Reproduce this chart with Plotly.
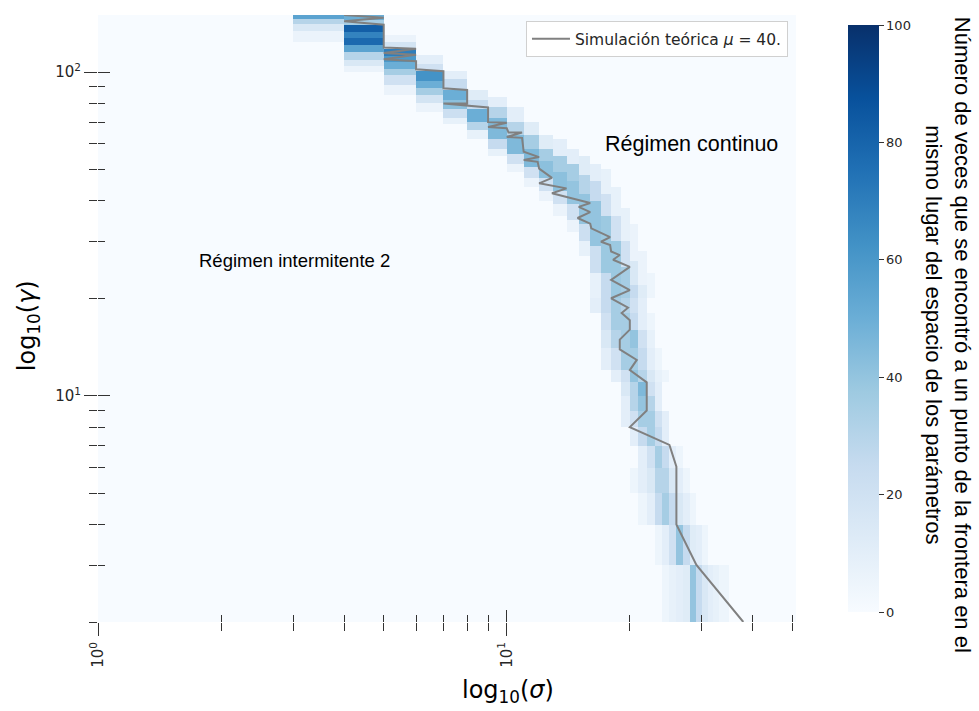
import math
import numpy as np
import plotly.graph_objects as go
import plotly.colors as pc

# ---------------- data ----------------
sigma_edges = list(range(1, 52))    # cell edges along sigma (1 .. 51)
gamma_edges = list(range(2, 151))   # cell edges along gamma (2 .. 150)

# upper part of the frontier: (sigma column, gamma from, gamma to (excl.), count)
upper_bands = [
    (3, 146, 150, 55), (3, 141, 146, 30), (3, 134, 141, 15), (3, 124, 134, 6),
    (4, 145, 150, 50), (4, 140, 145, 35), (4, 133, 140, 82), (4, 127, 133, 68), (4, 121, 127, 78),
    (4, 115, 121, 55), (4, 109, 115, 30), (4, 104, 109, 15), (4, 100, 104, 6),
    (5, 124, 130, 6), (5, 118, 124, 18), (5, 112, 118, 70), (5, 107, 112, 60), (5, 102, 107, 50),
    (5, 98, 102, 35), (5, 91, 98, 20), (5, 85, 91, 6),
    (6, 106, 113, 10), (6, 101, 106, 20), (6, 94, 101, 62), (6, 89, 94, 50), (6, 85, 89, 35),
    (6, 80, 85, 18), (6, 75, 80, 6),
    (7, 95, 101, 10), (7, 88, 95, 25), (7, 82, 88, 50), (7, 77, 82, 42), (7, 72, 77, 22), (7, 69, 72, 8),
    (8, 82, 88, 12), (8, 77, 82, 25), (8, 70, 77, 50), (8, 66, 70, 30), (8, 62, 66, 8),
    (9, 78, 84, 10), (9, 72, 78, 30), (9, 62, 72, 45), (9, 58, 62, 25), (9, 55, 58, 8),
    (10, 70, 78, 10), (10, 64, 70, 30), (10, 56, 64, 45), (10, 52, 56, 20), (10, 49, 52, 6),
    (11, 64, 70, 12), (11, 58, 64, 35), (11, 51, 58, 45), (11, 47, 51, 20), (11, 44, 47, 6),
    (12, 58, 64, 12), (12, 53, 58, 35), (12, 47, 53, 42), (12, 43, 47, 20), (12, 40, 43, 6),
    (13, 55, 62, 10), (13, 49, 55, 35), (13, 43, 49, 42), (13, 39, 43, 20), (13, 36, 39, 6),
    (14, 52, 58, 10), (14, 46, 52, 35), (14, 39, 46, 40), (14, 35, 39, 20), (14, 32, 35, 6),
    (15, 48, 55, 12), (15, 42, 48, 30), (15, 34, 42, 40), (15, 30, 34, 22), (15, 27, 30, 8),
    (16, 46, 52, 10), (16, 40, 46, 25), (16, 29, 40, 40), (16, 24, 29, 22), (16, 20, 24, 8),
    (17, 42, 50, 8), (17, 36, 42, 20), (17, 24, 36, 38), (17, 20, 24, 25),
    (18, 36, 44, 8), (18, 30, 36, 20), (18, 20, 30, 38),
    (19, 30, 38, 8), (19, 25, 30, 20), (19, 20, 25, 35),
    (20, 26, 34, 6), (20, 22, 26, 15), (20, 20, 22, 25),
    (21, 22, 28, 6), (21, 20, 22, 12),
    (22, 20, 24, 5),
]

# lower part: (gamma from, gamma to (excl.), first sigma column, counts along sigma)
lower_rows = [
    (18, 20, 16, [10, 25, 35, 30, 20, 10]),
    (16, 18, 17, [20, 35, 35, 25, 10, 5]),
    (14, 16, 17, [15, 30, 35, 40, 20, 8]),
    (12, 14, 17, [10, 20, 35, 35, 25, 10, 5]),
    (11, 12, 18, [10, 20, 40, 30, 15, 8, 5]),
    (10, 11, 19, [15, 30, 45, 20, 10]),
    (9, 10, 19, [10, 30, 40, 30, 10]),
    (8, 9, 19, [10, 20, 35, 35, 20, 10]),
    (7, 8, 20, [10, 25, 35, 25, 10]),
    (6, 7, 21, [10, 20, 35, 25, 10, 5]),
    (5, 6, 20, [5, 10, 15, 30, 30, 15, 10, 5]),
    (4, 5, 21, [5, 10, 25, 35, 25, 15, 10, 5]),
    (3, 4, 23, [5, 10, 20, 40, 25, 12, 10, 5]),
    (2, 3, 24, [5, 8, 10, 12, 40, 25, 15, 10, 8, 5, 5]),
]

# theoretical simulation line (sigma, gamma)
line_sigma = [4.0, 5.0, 4.0, 5.0, 5.0, 6.0, 5.0, 6.0, 5.0, 6.0, 6.0, 7.0, 7.0, 8.0, 8.0, 7.0,
              9.0, 9.0, 10.0, 9.0, 10.0, 10.1, 10.9, 10.0, 10.9, 11.0, 12.0, 11.0, 11.9, 12.0,
              12.9, 12.0, 14.0, 12.9, 16.0, 15.0, 16.0, 14.9, 16.0, 16.1, 17.9, 17.0, 17.9,
              18.0, 18.9, 18.2, 20.0, 18.0, 20.0, 18.0, 19.8, 19.1, 20.0, 20.0, 18.9, 18.9,
              20.8, 20.0, 22.0, 22.0, 20.0, 25.0, 26.0, 26.0, 29.1, 37.9]
line_gamma = [150, 147, 143.6, 140, 119, 118, 114.5, 113, 109.5, 108, 102, 100.5, 89.1, 88, 80, 80,
              77.7, 70, 69.7, 67.6, 67, 65, 65, 63, 62.6, 56.7, 54.6, 53.5, 52.8, 50.3,
              47.1, 45.3, 43.7, 42.2, 39.4, 38.3, 36.9, 35.4, 34.0, 32.9, 30.9, 29.9, 29.2,
              27.9, 27.2, 26.3, 25.0, 22.8, 21.2, 20.0, 18.7, 18.0, 17.1, 16.0, 14.9, 13.9,
              12.9, 12.0, 11.0, 9.0, 8.0, 7.05, 6.04, 4.0, 3.0, 2.0]

cbar_ticks = [0, 20, 40, 60, 80, 100]
x_major = [1, 10]
x_major_text = ["10<sup>0</sup>", "10<sup>1</sup>"]
x_minor = [2, 3, 4, 5, 6, 7, 8, 9, 20, 30, 40, 50]
y_major = [10, 100]
y_major_text = ["10<sup>1</sup>", "10<sup>2</sup>"]
y_minor = [2, 3, 4, 5, 6, 7, 8, 9, 20, 30, 40, 50, 60, 70, 80, 90]

# ---------------- build grid ----------------
nx = len(sigma_edges) - 1
ny = len(gamma_edges) - 1
z = np.zeros((ny, nx))
g0 = gamma_edges[0]
s0 = sigma_edges[0]
for s, glo, ghi, c in upper_bands:
    z[glo - g0:ghi - g0, s - s0] = c
for glo, ghi, sstart, counts in lower_rows:
    for k, c in enumerate(counts):
        z[glo - g0:ghi - g0, sstart - s0 + k] = c

blues = pc.sequential.Blues
cscale = [[i / (len(blues) - 1), col] for i, col in enumerate(blues)]

fig = go.Figure()
fig.add_trace(go.Heatmap(
    x=sigma_edges, y=gamma_edges, z=z, zmin=0, zmax=100,
    colorscale=cscale, showscale=True, hoverinfo="skip",
    colorbar=dict(
        x=1.06, xanchor="left", y=0.5, yanchor="middle", len=1.0, lenmode="fraction",
        thickness=31, outlinewidth=0, ticks="outside", ticklen=5, tickwidth=1,
        tickcolor="#333333", tickvals=cbar_ticks,
        tickfont=dict(family="DejaVu Sans", size=13, color="#262626"),
    ),
    showlegend=False,
))
fig.add_trace(go.Scatter(
    x=line_sigma, y=line_gamma, mode="lines",
    line=dict(color="#808080", width=2),
    name="Simulación teórica <i>μ</i> = 40.",
    showlegend=True,
))
# invisible copy to carry the overlaid axes (inner tick halves)
fig.add_trace(go.Scatter(
    x=line_sigma, y=line_gamma, mode="lines", xaxis="x2", yaxis="y2",
    line=dict(color="rgba(0,0,0,0)", width=0), showlegend=False, hoverinfo="skip",
))

xr = [math.log10(sigma_edges[0]), math.log10(sigma_edges[-1])]
yr = [math.log10(gamma_edges[0]), math.log10(gamma_edges[-1])]
tickfont = dict(family="DejaVu Sans", size=15, color="#262626")

common_x = dict(type="log", range=xr, showgrid=False, zeroline=False, showline=False,
                tickmode="array", tickvals=x_major, tickwidth=1.2, tickcolor="#333333",
                minor=dict(tickmode="array", tickvals=x_minor, ticklen=8, tickwidth=1.2,
                           tickcolor="#333333", showgrid=False))
common_y = dict(type="log", range=yr, showgrid=False, zeroline=False, showline=False,
                tickmode="array", tickvals=y_major, tickwidth=1.2, tickcolor="#333333",
                minor=dict(tickmode="array", tickvals=y_minor, ticklen=8, tickwidth=1.2,
                           tickcolor="#333333", showgrid=False))

xa = dict(common_x)
xa.update(ticks="outside", ticklen=13, ticktext=x_major_text, tickangle=-90,
          tickfont=tickfont)
xa["minor"] = dict(xa["minor"], ticks="outside")
ya = dict(common_y)
ya.update(ticks="outside", ticklen=13, ticktext=y_major_text, tickfont=tickfont)
ya["minor"] = dict(ya["minor"], ticks="outside")

xa2 = dict(common_x)
xa2.update(overlaying="x", ticks="inside", ticklen=12, showticklabels=False, side="bottom")
xa2["minor"] = dict(xa2["minor"], ticks="inside", ticklen=7)
ya2 = dict(common_y)
ya2.update(overlaying="y", ticks="inside", ticklen=12, showticklabels=False, side="left")
ya2["minor"] = dict(ya2["minor"], ticks="inside", ticklen=7)

fig.update_layout(
    width=979, height=711,
    margin=dict(l=98, r=183, t=15, b=89),
    paper_bgcolor="white", plot_bgcolor="white",
    xaxis=xa, yaxis=ya, xaxis2=xa2, yaxis2=ya2,
    legend=dict(x=0.9885, y=0.99, xanchor="right", yanchor="top",
                bgcolor="white", bordercolor="#d0d0d0", borderwidth=1, itemwidth=38,
                font=dict(family="DejaVu Sans", size=15.5, color="#262626")),
    annotations=[
        dict(text="log<sub>10</sub>(<i>σ</i>)", x=0.587, y=-0.115, xref="paper", yref="paper",
             xanchor="center", yanchor="middle", showarrow=False,
             font=dict(family="DejaVu Sans", size=24, color="black")),
        dict(text="log<sub>10</sub>(<i>γ</i>)", x=-0.1003, y=0.489, xref="paper", yref="paper",
             xanchor="center", yanchor="middle", textangle=-90, showarrow=False,
             font=dict(family="DejaVu Sans", size=24, color="black")),
        dict(text="Régimen continuo", x=0.851, y=0.7875, xref="paper", yref="paper",
             xanchor="center", yanchor="middle", showarrow=False,
             font=dict(family="Liberation Sans", size=21.5, color="black")),
        dict(text="Régimen intermitente 2", x=0.282, y=0.595, xref="paper", yref="paper",
             xanchor="center", yanchor="middle", showarrow=False,
             font=dict(family="Liberation Sans", size=18.5, color="black")),
        dict(text="Número de veces que se encontró a un punto de la frontera en el<br>mismo lugar del espacio de los parámetros",
             x=1.2178, y=0.473, xref="paper", yref="paper", xanchor="center", yanchor="middle",
             textangle=90, showarrow=False,
             font=dict(family="Liberation Sans", size=22, color="black")),
    ],
)

fig.write_html("out.html")
